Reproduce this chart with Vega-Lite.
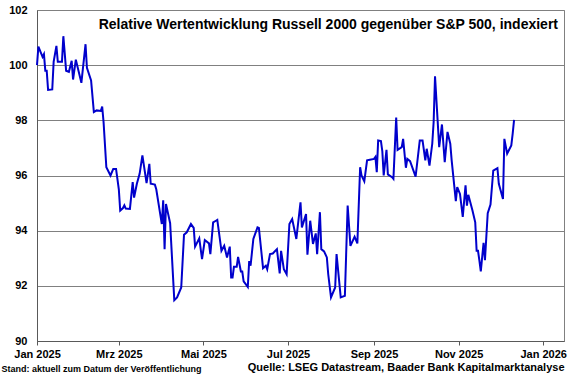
{
  "$schema": "https://vega.github.io/schema/vega-lite/v6.json",
  "autosize": {"type": "none"},
  "padding": {"left": 37, "top": 10, "right": 16, "bottom": 34},
  "width": 527,
  "height": 331,
  "background": "white",
  "config": {
    "font": "Liberation Sans",
    "view": {"stroke": "#808080", "strokeWidth": 1}
  },
  "title": {
    "text": "Relative Wertentwicklung Russell 2000 gegenüber S&P 500, indexiert",
    "anchor": "end",
    "frame": "group",
    "orient": "top",
    "offset": -28,
    "dx": -6,
    "fontSize": 14,
    "font": "Liberation Sans",
    "fontWeight": "bold",
    "color": "black"
  },
  "data": {
    "values": [
      {"d": "2025-01-01", "v": 100.0},
      {"d": "2025-01-02", "v": 100.67},
      {"d": "2025-01-05", "v": 100.3},
      {"d": "2025-01-06", "v": 100.4},
      {"d": "2025-01-07", "v": 99.8},
      {"d": "2025-01-08", "v": 99.8},
      {"d": "2025-01-09", "v": 99.1},
      {"d": "2025-01-12", "v": 99.12},
      {"d": "2025-01-13", "v": 100.12},
      {"d": "2025-01-15", "v": 100.7},
      {"d": "2025-01-16", "v": 100.12},
      {"d": "2025-01-19", "v": 100.12},
      {"d": "2025-01-20", "v": 101.05},
      {"d": "2025-01-22", "v": 99.8},
      {"d": "2025-01-24", "v": 99.76},
      {"d": "2025-01-26", "v": 100.16},
      {"d": "2025-01-27", "v": 99.48},
      {"d": "2025-01-29", "v": 100.2},
      {"d": "2025-02-02", "v": 99.36},
      {"d": "2025-02-05", "v": 100.76},
      {"d": "2025-02-06", "v": 99.9},
      {"d": "2025-02-09", "v": 99.45},
      {"d": "2025-02-11", "v": 98.3},
      {"d": "2025-02-13", "v": 98.36},
      {"d": "2025-02-16", "v": 98.34},
      {"d": "2025-02-17", "v": 98.5},
      {"d": "2025-02-18", "v": 97.94},
      {"d": "2025-02-20", "v": 96.3},
      {"d": "2025-02-23", "v": 96.0},
      {"d": "2025-02-25", "v": 96.24},
      {"d": "2025-02-27", "v": 96.24},
      {"d": "2025-03-01", "v": 95.5},
      {"d": "2025-03-02", "v": 94.73},
      {"d": "2025-03-04", "v": 94.82},
      {"d": "2025-03-05", "v": 94.92},
      {"d": "2025-03-06", "v": 94.8},
      {"d": "2025-03-09", "v": 94.79},
      {"d": "2025-03-11", "v": 95.76},
      {"d": "2025-03-12", "v": 95.2},
      {"d": "2025-03-14", "v": 95.7},
      {"d": "2025-03-16", "v": 96.06},
      {"d": "2025-03-18", "v": 96.73},
      {"d": "2025-03-21", "v": 95.72},
      {"d": "2025-03-23", "v": 96.42},
      {"d": "2025-03-24", "v": 95.7},
      {"d": "2025-03-27", "v": 95.67},
      {"d": "2025-03-28", "v": 95.5},
      {"d": "2025-04-01", "v": 94.24},
      {"d": "2025-04-02", "v": 95.1},
      {"d": "2025-04-03", "v": 93.33},
      {"d": "2025-04-04", "v": 94.97},
      {"d": "2025-04-07", "v": 94.27},
      {"d": "2025-04-10", "v": 91.48},
      {"d": "2025-04-12", "v": 91.58},
      {"d": "2025-04-15", "v": 91.94},
      {"d": "2025-04-17", "v": 93.85},
      {"d": "2025-04-19", "v": 93.94},
      {"d": "2025-04-22", "v": 94.24},
      {"d": "2025-04-24", "v": 94.1},
      {"d": "2025-04-25", "v": 93.42},
      {"d": "2025-04-28", "v": 93.72},
      {"d": "2025-04-30", "v": 92.97},
      {"d": "2025-05-02", "v": 93.66},
      {"d": "2025-05-05", "v": 93.54},
      {"d": "2025-05-06", "v": 93.15},
      {"d": "2025-05-08", "v": 94.3},
      {"d": "2025-05-10", "v": 94.36},
      {"d": "2025-05-11", "v": 94.39},
      {"d": "2025-05-14", "v": 93.27},
      {"d": "2025-05-16", "v": 93.45},
      {"d": "2025-05-18", "v": 93.03},
      {"d": "2025-05-20", "v": 93.42},
      {"d": "2025-05-21", "v": 92.3},
      {"d": "2025-05-22", "v": 92.3},
      {"d": "2025-05-23", "v": 92.69},
      {"d": "2025-05-25", "v": 92.69},
      {"d": "2025-05-26", "v": 93.05},
      {"d": "2025-05-28", "v": 92.52},
      {"d": "2025-05-29", "v": 92.52},
      {"d": "2025-05-30", "v": 92.16},
      {"d": "2025-06-02", "v": 91.96},
      {"d": "2025-06-03", "v": 92.9},
      {"d": "2025-06-04", "v": 92.73},
      {"d": "2025-06-06", "v": 93.7},
      {"d": "2025-06-09", "v": 94.12},
      {"d": "2025-06-10", "v": 94.1},
      {"d": "2025-06-13", "v": 92.64},
      {"d": "2025-06-15", "v": 92.73},
      {"d": "2025-06-16", "v": 92.6},
      {"d": "2025-06-18", "v": 93.15},
      {"d": "2025-06-20", "v": 93.17},
      {"d": "2025-06-23", "v": 93.33},
      {"d": "2025-06-25", "v": 92.45},
      {"d": "2025-06-26", "v": 93.27},
      {"d": "2025-06-28", "v": 92.6},
      {"d": "2025-06-30", "v": 92.42},
      {"d": "2025-07-02", "v": 94.24},
      {"d": "2025-07-04", "v": 94.42},
      {"d": "2025-07-07", "v": 93.7},
      {"d": "2025-07-10", "v": 95.03},
      {"d": "2025-07-11", "v": 94.12},
      {"d": "2025-07-14", "v": 94.6},
      {"d": "2025-07-15", "v": 93.13},
      {"d": "2025-07-17", "v": 94.36},
      {"d": "2025-07-19", "v": 93.52},
      {"d": "2025-07-21", "v": 93.9},
      {"d": "2025-07-22", "v": 93.15},
      {"d": "2025-07-24", "v": 94.67},
      {"d": "2025-07-25", "v": 93.33},
      {"d": "2025-07-27", "v": 93.25},
      {"d": "2025-07-29", "v": 93.03},
      {"d": "2025-07-30", "v": 92.42},
      {"d": "2025-08-01", "v": 91.58},
      {"d": "2025-08-04", "v": 91.94},
      {"d": "2025-08-05", "v": 93.15},
      {"d": "2025-08-08", "v": 91.58},
      {"d": "2025-08-09", "v": 91.6},
      {"d": "2025-08-11", "v": 91.64},
      {"d": "2025-08-13", "v": 94.91},
      {"d": "2025-08-15", "v": 93.45},
      {"d": "2025-08-18", "v": 93.78},
      {"d": "2025-08-20", "v": 93.54},
      {"d": "2025-08-22", "v": 96.3},
      {"d": "2025-08-23", "v": 96.0},
      {"d": "2025-08-25", "v": 95.79},
      {"d": "2025-08-27", "v": 96.55},
      {"d": "2025-08-29", "v": 96.57},
      {"d": "2025-09-01", "v": 96.6},
      {"d": "2025-09-02", "v": 96.67},
      {"d": "2025-09-03", "v": 96.12},
      {"d": "2025-09-04", "v": 97.27},
      {"d": "2025-09-06", "v": 97.25},
      {"d": "2025-09-07", "v": 96.88},
      {"d": "2025-09-08", "v": 96.0},
      {"d": "2025-09-10", "v": 96.93},
      {"d": "2025-09-11", "v": 96.04},
      {"d": "2025-09-14", "v": 95.94},
      {"d": "2025-09-15", "v": 95.88},
      {"d": "2025-09-17", "v": 98.1},
      {"d": "2025-09-18", "v": 96.93},
      {"d": "2025-09-21", "v": 97.03},
      {"d": "2025-09-22", "v": 97.33},
      {"d": "2025-09-24", "v": 96.28},
      {"d": "2025-09-25", "v": 96.6},
      {"d": "2025-09-27", "v": 96.52},
      {"d": "2025-10-01", "v": 95.96},
      {"d": "2025-10-04", "v": 97.27},
      {"d": "2025-10-06", "v": 97.27},
      {"d": "2025-10-08", "v": 96.55},
      {"d": "2025-10-09", "v": 96.97},
      {"d": "2025-10-11", "v": 96.36},
      {"d": "2025-10-13", "v": 97.15},
      {"d": "2025-10-14", "v": 97.94},
      {"d": "2025-10-15", "v": 99.6},
      {"d": "2025-10-18", "v": 97.03},
      {"d": "2025-10-20", "v": 97.85},
      {"d": "2025-10-22", "v": 96.48},
      {"d": "2025-10-24", "v": 97.58},
      {"d": "2025-10-26", "v": 97.15},
      {"d": "2025-10-27", "v": 96.55},
      {"d": "2025-10-30", "v": 95.07},
      {"d": "2025-10-31", "v": 95.58},
      {"d": "2025-11-02", "v": 95.33},
      {"d": "2025-11-04", "v": 94.5},
      {"d": "2025-11-06", "v": 95.64},
      {"d": "2025-11-07", "v": 94.91},
      {"d": "2025-11-08", "v": 95.3},
      {"d": "2025-11-11", "v": 94.73},
      {"d": "2025-11-13", "v": 94.3},
      {"d": "2025-11-14", "v": 93.27},
      {"d": "2025-11-15", "v": 93.27},
      {"d": "2025-11-16", "v": 92.91},
      {"d": "2025-11-17", "v": 92.52},
      {"d": "2025-11-19", "v": 93.56},
      {"d": "2025-11-20", "v": 92.93},
      {"d": "2025-11-22", "v": 94.63},
      {"d": "2025-11-24", "v": 94.95},
      {"d": "2025-11-26", "v": 96.18},
      {"d": "2025-11-29", "v": 96.27},
      {"d": "2025-11-30", "v": 95.7},
      {"d": "2025-12-03", "v": 95.15},
      {"d": "2025-12-04", "v": 97.33},
      {"d": "2025-12-06", "v": 96.79},
      {"d": "2025-12-09", "v": 97.09},
      {"d": "2025-12-10", "v": 97.52},
      {"d": "2025-12-11", "v": 98.02}
    ]
  },
  "mark": {"type": "line", "color": "#0000CC", "strokeWidth": 2, "interpolate": "linear"},
  "encoding": {
    "x": {
      "field": "d",
      "type": "temporal",
      "scale": {
        "type": "utc",
        "domain": [
          {"year": 2025, "month": 1, "date": 1, "utc": true},
          {"year": 2026, "month": 1, "date": 16, "utc": true}
        ]
      },
      "axis": {
        "values": [
          {"year": 2025, "month": 1, "date": 1, "utc": true},
          {"year": 2025, "month": 3, "date": 1, "utc": true},
          {"year": 2025, "month": 5, "date": 1, "utc": true},
          {"year": 2025, "month": 7, "date": 1, "utc": true},
          {"year": 2025, "month": 9, "date": 1, "utc": true},
          {"year": 2025, "month": 11, "date": 1, "utc": true},
          {"year": 2026, "month": 1, "date": 1, "utc": true}
        ],
        "labelExpr": "['Jan','Feb','Mrz','Apr','Mai','Jun','Jul','Aug','Sep','Okt','Nov','Dez'][utcmonth(datum.value)] + ' ' + utcyear(datum.value)",
        "grid": false,
        "domainColor": "#595959",
        "domainWidth": 1,
        "tickColor": "#595959",
        "tickSize": 4,
        "labelPadding": 3,
        "labelFont": "Liberation Sans",
        "labelFontSize": 11,
        "labelFontWeight": "bold",
        "labelColor": "black",
        "labelFlush": false,
        "labelOverlap": false,
        "title": "Quelle: LSEG Datastream, Baader Bank Kapitalmarktanalyse",
        "titleFont": "Liberation Sans",
        "titleFontSize": 11,
        "titleFontWeight": "bold",
        "titleColor": "black",
        "titleAlign": "right",
        "titleAnchor": "end",
        "titleBaseline": "middle",
        "titleX": 527,
        "titleY": 26
      }
    },
    "y": {
      "field": "v",
      "type": "quantitative",
      "scale": {"domain": [90, 102], "nice": false, "zero": false},
      "axis": {
        "values": [90, 92, 94, 96, 98, 100, 102],
        "grid": true,
        "gridColor": "#808080",
        "gridOpacity": 1,
        "gridWidth": 1,
        "ticks": false,
        "domainColor": "#595959",
        "labelPadding": 10,
        "labelFont": "Liberation Sans",
        "labelFontSize": 11,
        "labelFontWeight": "bold",
        "labelColor": "black",
        "labelFlush": false,
        "title": "Stand: aktuell zum Datum der Veröffentlichung",
        "titleFont": "Liberation Sans",
        "titleFontSize": 9,
        "titleFontWeight": "bold",
        "titleColor": "black",
        "titleAngle": 0,
        "titleAlign": "left",
        "titleBaseline": "middle",
        "titleX": -36,
        "titleY": 358
      }
    }
  }
}
